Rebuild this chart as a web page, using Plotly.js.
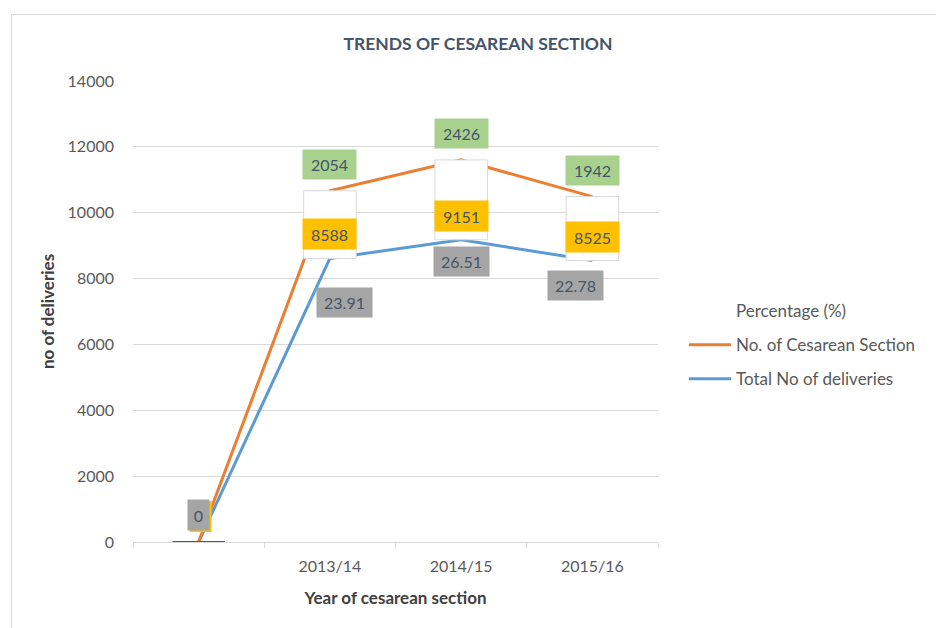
<!DOCTYPE html>
<html>
<head>
<meta charset="utf-8">
<script src="https://cdn.plot.ly/plotly-3.0.1.min.js"></script>
<style>
  html, body { margin: 0; padding: 0; background: #fff; }
  #wrap { position: relative; width: 936px; height: 628px; overflow: hidden; }
  #chart { width: 936px; height: 628px; }
  #frame { position: absolute; left: 11px; top: 14px; width: 1000px; height: 700px;
           border-left: 1px solid #d9d9d9; border-top: 1px solid #d9d9d9; pointer-events: none; }
</style>
</head>
<body>
<div id="wrap">
  <div id="chart"></div>
  <div id="frame"></div>
</div>
<script>
// ---- data ----
const categories = [" ", "2013/14", "2014/15", "2015/16"];
const percentage = [0, 23.91, 26.51, 22.78];
const totalDeliveries = [0, 8588, 9151, 8525];
const cesareanSections = [0, 2054, 2426, 1942];
const yTicks = [0, 2000, 4000, 6000, 8000, 10000, 12000, 14000];

// ---- styles ----
const ORANGE = '#ED7D31', BLUE = '#5B9BD5';
const GREEN_BOX = '#A9D18E', YELLOW_BOX = '#FFC000', GRAY_BOX = '#A5A5A5';
const TXT = '#404040', LABEL_TXT = '#44546A';
const FONT = 'Lato, "Open Sans", sans-serif';
// per-point pixel offsets for gray percentage labels
const grayShift = [[0, 27], [15, -44], [0, -22], [-17, -25]];

const traces = [
  { name: 'Percentage (%)', x: categories, y: percentage, type: 'scatter', mode: 'lines',
    stackgroup: 'one', fill: 'none', line: { color: 'rgba(0,0,0,0)', width: 3 },
    legendrank: 1, legendgroup: 'a', hoverinfo: 'skip' },
  { name: 'Total No of deliveries', x: categories, y: totalDeliveries, type: 'scatter', mode: 'lines',
    stackgroup: 'one', fill: 'none', line: { color: BLUE, width: 3 },
    legendrank: 3, legendgroup: 'c', hoverinfo: 'skip' },
  { name: 'No. of Cesarean Section', x: categories, y: cesareanSections, type: 'scatter', mode: 'lines',
    stackgroup: 'one', fill: 'none', line: { color: ORANGE, width: 3 },
    legendrank: 2, legendgroup: 'b', hoverinfo: 'skip' }
];

const annotations = [];
const shapes = [];
const labelFont = { family: FONT, size: 16, color: LABEL_TXT };
categories.forEach((c, i) => {
  const blue = percentage[i] + totalDeliveries[i];
  const orange = blue + cesareanSections[i];
  if (i > 0) {
    shapes.push({ type: 'rect', xref: 'x', yref: 'y', x0: i - 0.2, x1: i + 0.2, y0: blue, y1: orange,
      fillcolor: '#ffffff', line: { color: '#d9d9d9', width: 1 }, layer: 'above' });
    annotations.push({ x: c, y: orange, xref: 'x', yref: 'y', text: String(cesareanSections[i]),
      showarrow: false, yshift: 26, bgcolor: GREEN_BOX, width: 49, height: 25, borderpad: 2, font: labelFont });
    annotations.push({ x: c, y: blue, xref: 'x', yref: 'y', text: String(totalDeliveries[i]),
      showarrow: false, yshift: 24, bgcolor: YELLOW_BOX, width: 49, height: 26, borderpad: 2, font: labelFont });
    annotations.push({ x: c, y: blue, xref: 'x', yref: 'y', text: percentage[i].toFixed(2),
      showarrow: false, xshift: grayShift[i][0], yshift: grayShift[i][1], bgcolor: GRAY_BOX,
      width: 51, height: 25, borderpad: 2, font: labelFont });
  } else {
    // zero baseline marker of the first (blank) category
    shapes.push({ type: 'line', xref: 'x', yref: 'y', x0: i - 0.2, x1: i + 0.2, y0: blue, y1: blue,
      line: { color: '#595959', width: 2 }, layer: 'above' });
    // yellow label box of the total series peeking behind the gray "0" label
    shapes.push({ type: 'rect', xref: 'x', yref: 'y', xsizemode: 'pixel', ysizemode: 'pixel',
      xanchor: i, yanchor: blue, x0: -9, x1: 13, y0: 10, y1: 41,
      fillcolor: YELLOW_BOX, line: { width: 0 }, layer: 'above' });
    annotations.push({ x: c, y: blue, xref: 'x', yref: 'y', text: String(percentage[i]),
      showarrow: false, xshift: 0, yshift: grayShift[i][1], bgcolor: GRAY_BOX,
      width: 19, height: 28, borderpad: 1, font: labelFont });
  }
});

const layout = {
  width: 936, height: 628,
  margin: { l: 133, r: 278, t: 81, b: 86 },
  paper_bgcolor: '#ffffff', plot_bgcolor: '#ffffff',
  font: { family: FONT, size: 16, color: TXT },
  title: { text: 'TRENDS OF CESAREAN SECTION', x: 478 / 936, xanchor: 'center', y: 1 - 44 / 628, yanchor: 'middle',
           font: { family: FONT, size: 17.5, color: LABEL_TXT, weight: 'bold' } },
  xaxis: {
    type: 'category', categoryorder: 'array', categoryarray: categories,
    range: [-0.5, 3.5], showgrid: false, zeroline: false,
    showline: true, linecolor: '#d9d9d9', linewidth: 1,
    ticks: 'outside', tickson: 'boundaries', ticklen: 5, tickcolor: '#d9d9d9',
    ticklabelstandoff: 10,
    tickfont: { family: FONT, size: 16, color: '#595959' },
    title: { text: 'Year of cesarean section', standoff: 17,
             font: { family: FONT, size: 17, color: TXT, weight: 'bold' } }
  },
  yaxis: {
    range: [0, 14000], tickvals: yTicks, ticktext: yTicks.map(String),
    showgrid: true, gridcolor: '#d9d9d9', gridwidth: 1, zeroline: false, showline: false,
    ticks: '', ticklabelstandoff: 18,
    tickfont: { family: FONT, size: 16, color: '#595959' },
    title: { text: 'no of deliveries', standoff: 8,
             font: { family: FONT, size: 17, color: TXT, weight: 'bold' } }
  },
  showlegend: true,
  legend: {
    x: (684 - 133) / 525, xanchor: 'left', y: (542 - 293) / 461, yanchor: 'top',
    traceorder: 'grouped', tracegroupgap: 9, itemwidth: 42,
    font: { family: FONT, size: 17, color: '#595959' }, bgcolor: 'rgba(0,0,0,0)'
  },
  shapes: shapes,
  annotations: annotations
};

Plotly.newPlot('chart', traces, layout, { displayModeBar: false, staticPlot: true });
</script>
</body>
</html>
